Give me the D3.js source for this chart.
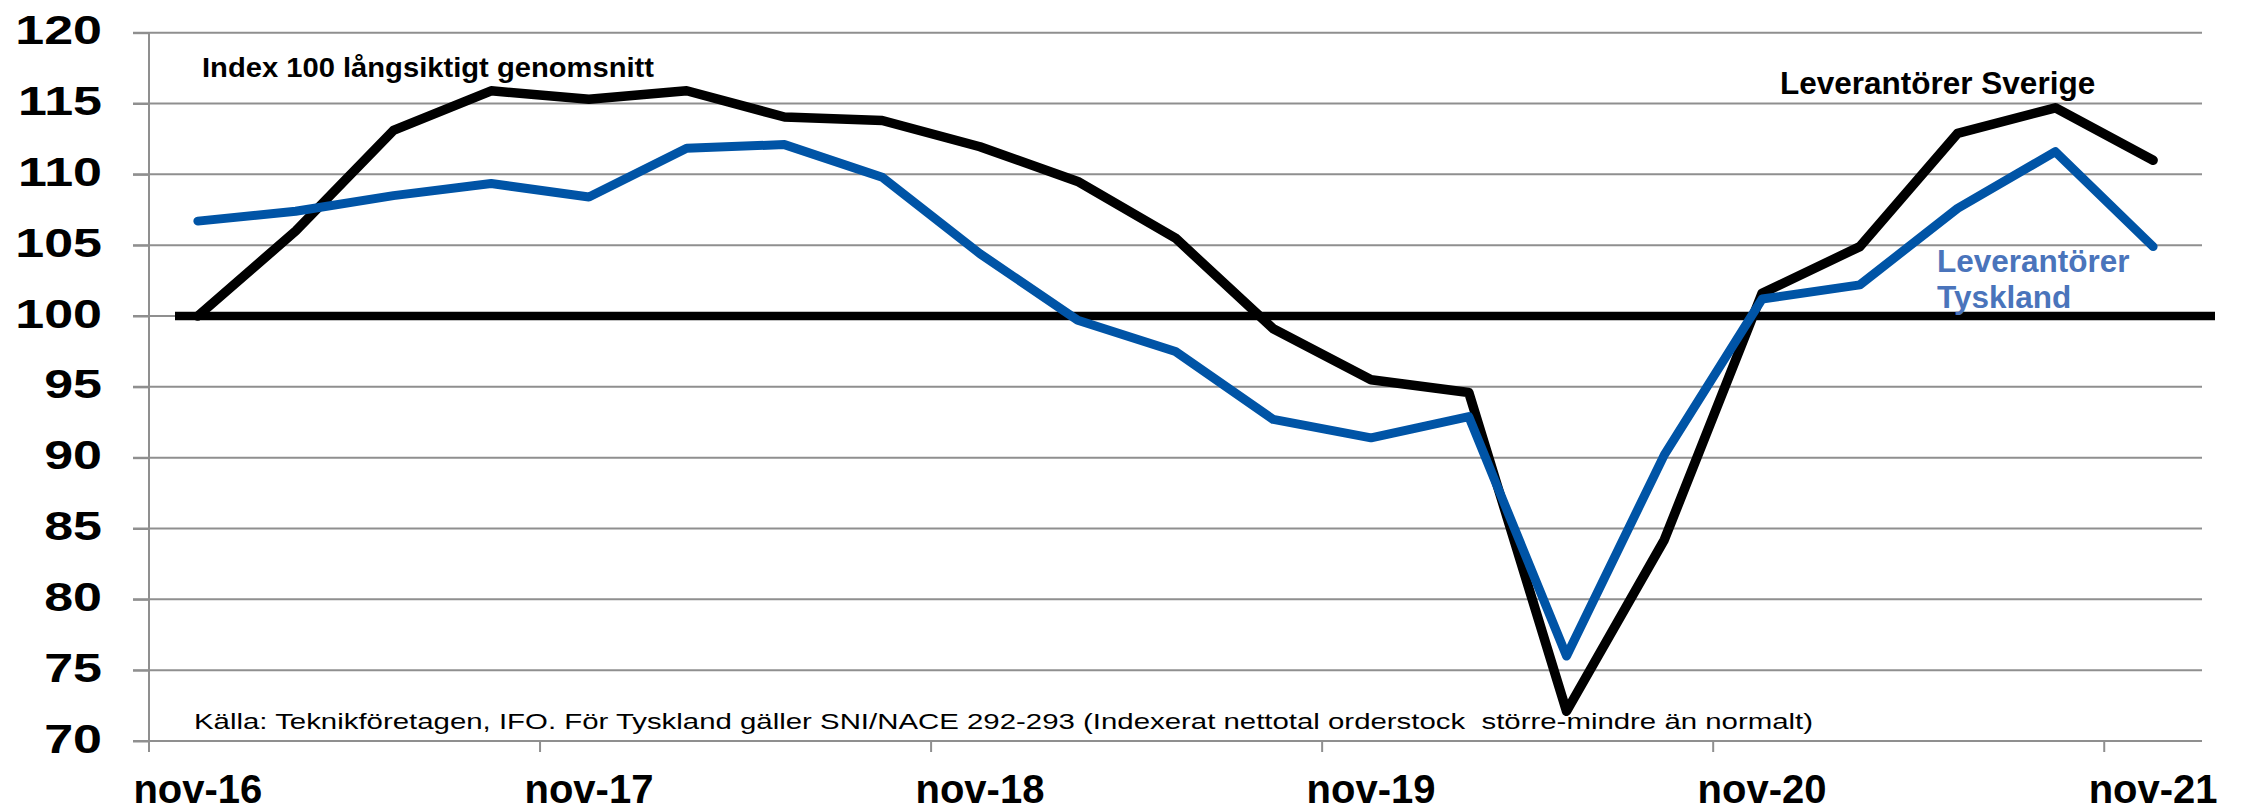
<!DOCTYPE html>
<html>
<head>
<meta charset="utf-8">
<script src="https://cdn.jsdelivr.net/npm/d3@7"></script>
<style>
  html, body { margin: 0; padding: 0; background: #ffffff; }
  svg { display: block; }
  text { font-family: "Liberation Sans", Arial, Helvetica, sans-serif; }
</style>
</head>
<body>
<svg id="chart" width="2244" height="811"></svg>
<script>
// ---- data ----
const categories = ["nov-16","feb-17","maj-17","aug-17","nov-17","feb-18","maj-18","aug-18","nov-18","feb-19","maj-19","aug-19","nov-19","feb-20","maj-20","aug-20","nov-20","feb-21","maj-21","aug-21","nov-21"];
const sverige  = [100.0,106.0,113.1,115.9,115.3,115.9,114.05,113.8,111.95,109.5,105.5,99.1,95.5,94.6,72.1,84.2,101.6,104.9,112.9,114.7,111.0];
const tyskland = [106.7,107.4,108.5,109.35,108.4,111.85,112.1,109.8,104.4,99.7,97.5,92.7,91.4,92.9,76.0,90.2,101.2,102.2,107.6,111.6,104.9];
const yTicks = [70,75,80,85,90,95,100,105,110,115,120];
const xTickLabels = ["nov-16","nov-17","nov-18","nov-19","nov-20","nov-21"];
const refValue = 100;
const titleText = "Index 100 långsiktigt genomsnitt";
const sverigeLabel = "Leverantörer Sverige";
const tysklandLabel = ["Leverantörer", "Tyskland"];
const sourceText = "Källa: Teknikföretagen, IFO. För Tyskland gäller SNI/NACE 292-293 (Indexerat nettotal orderstock  större-mindre än normalt)";

// ---- layout ----
const svg = d3.select("#chart");
const plotLeft = 149, plotRight = 2202, plotTop = 32.7, plotBottom = 741;
const x = d3.scaleBand().domain(categories).range([plotLeft, plotRight]).padding(0);
const y = d3.scaleLinear().domain([70, 120]).range([plotBottom, plotTop]);
const cx = c => x(c) + x.bandwidth() / 2;

const gridColor = "#8f8f8f";

// gridlines
svg.append("g").selectAll("line").data(yTicks).join("line")
  .attr("x1", 133).attr("x2", plotRight)
  .attr("y1", d => y(d)).attr("y2", d => y(d))
  .attr("stroke", gridColor).attr("stroke-width", 2);

// y axis
const yAxis = svg.append("g").attr("transform", `translate(${plotLeft},0)`)
  .call(d3.axisLeft(y).tickValues(yTicks).tickSize(16).tickFormat(d => d));
yAxis.select(".domain").remove();
yAxis.selectAll(".tick line").attr("stroke", gridColor).attr("stroke-width", 2);
yAxis.selectAll(".tick text")
  .attr("x", 0).attr("dy", null)
  .attr("transform", "translate(-47,11) scale(1.3,1)")
  .attr("text-anchor", "end")
  .attr("fill", "#000")
  .style("font-size", "40px").style("font-weight", "bold");
svg.append("line")
  .attr("x1", plotLeft).attr("x2", plotLeft).attr("y1", plotTop).attr("y2", plotBottom + 11)
  .attr("stroke", gridColor).attr("stroke-width", 2);

// x axis labels
const xAxis = svg.append("g").attr("transform", `translate(0,${plotBottom})`)
  .call(d3.axisBottom(x).tickValues(xTickLabels).tickSize(0));
xAxis.select(".domain").remove();
xAxis.selectAll(".tick text")
  .attr("y", 62).attr("dy", null)
  .attr("fill", "#000")
  .style("font-size", "40px").style("font-weight", "bold");
// x tick marks at category boundaries
svg.append("g").selectAll("line").data(xTickLabels).join("line")
  .attr("x1", d => x(d)).attr("x2", d => x(d))
  .attr("y1", plotBottom).attr("y2", plotBottom + 11)
  .attr("stroke", gridColor).attr("stroke-width", 2);

// reference line at 100
svg.append("line")
  .attr("x1", 175).attr("x2", 2215)
  .attr("y1", y(refValue)).attr("y2", y(refValue))
  .attr("stroke", "#000").attr("stroke-width", 8.5);

const line = d3.line().x((d, i) => cx(categories[i])).y(d => y(d));

svg.append("path").datum(sverige)
  .attr("d", line).attr("fill", "none")
  .attr("stroke", "#000").attr("stroke-width", 9.5)
  .attr("stroke-linejoin", "round").attr("stroke-linecap", "round");

svg.append("path").datum(tyskland)
  .attr("d", line).attr("fill", "none")
  .attr("stroke", "#0054a6").attr("stroke-width", 9)
  .attr("stroke-linejoin", "round").attr("stroke-linecap", "round");

// annotations
svg.append("text").attr("x", 202).attr("y", 77)
  .attr("textLength", 452).attr("lengthAdjust", "spacingAndGlyphs")
  .style("font-size", "28px").style("font-weight", "bold").attr("fill", "#000")
  .text(titleText);

svg.append("text").attr("x", 1780).attr("y", 94)
  .style("font-size", "31.5px").style("font-weight", "bold").attr("fill", "#000")
  .text(sverigeLabel);

svg.append("text").attr("x", 1937).attr("y", 272)
  .style("font-size", "31.5px").style("font-weight", "bold").attr("fill", "#4a74bb")
  .selectAll("tspan").data(tysklandLabel).join("tspan")
  .attr("x", 1937).attr("dy", (d, i) => i === 0 ? 0 : 36)
  .text(d => d);

svg.append("text").attr("x", 194).attr("y", 729)
  .attr("textLength", 1619).attr("lengthAdjust", "spacingAndGlyphs")
  .style("font-size", "21.5px").style("white-space", "pre").attr("fill", "#000")
  .text(sourceText);
</script>
</body>
</html>
